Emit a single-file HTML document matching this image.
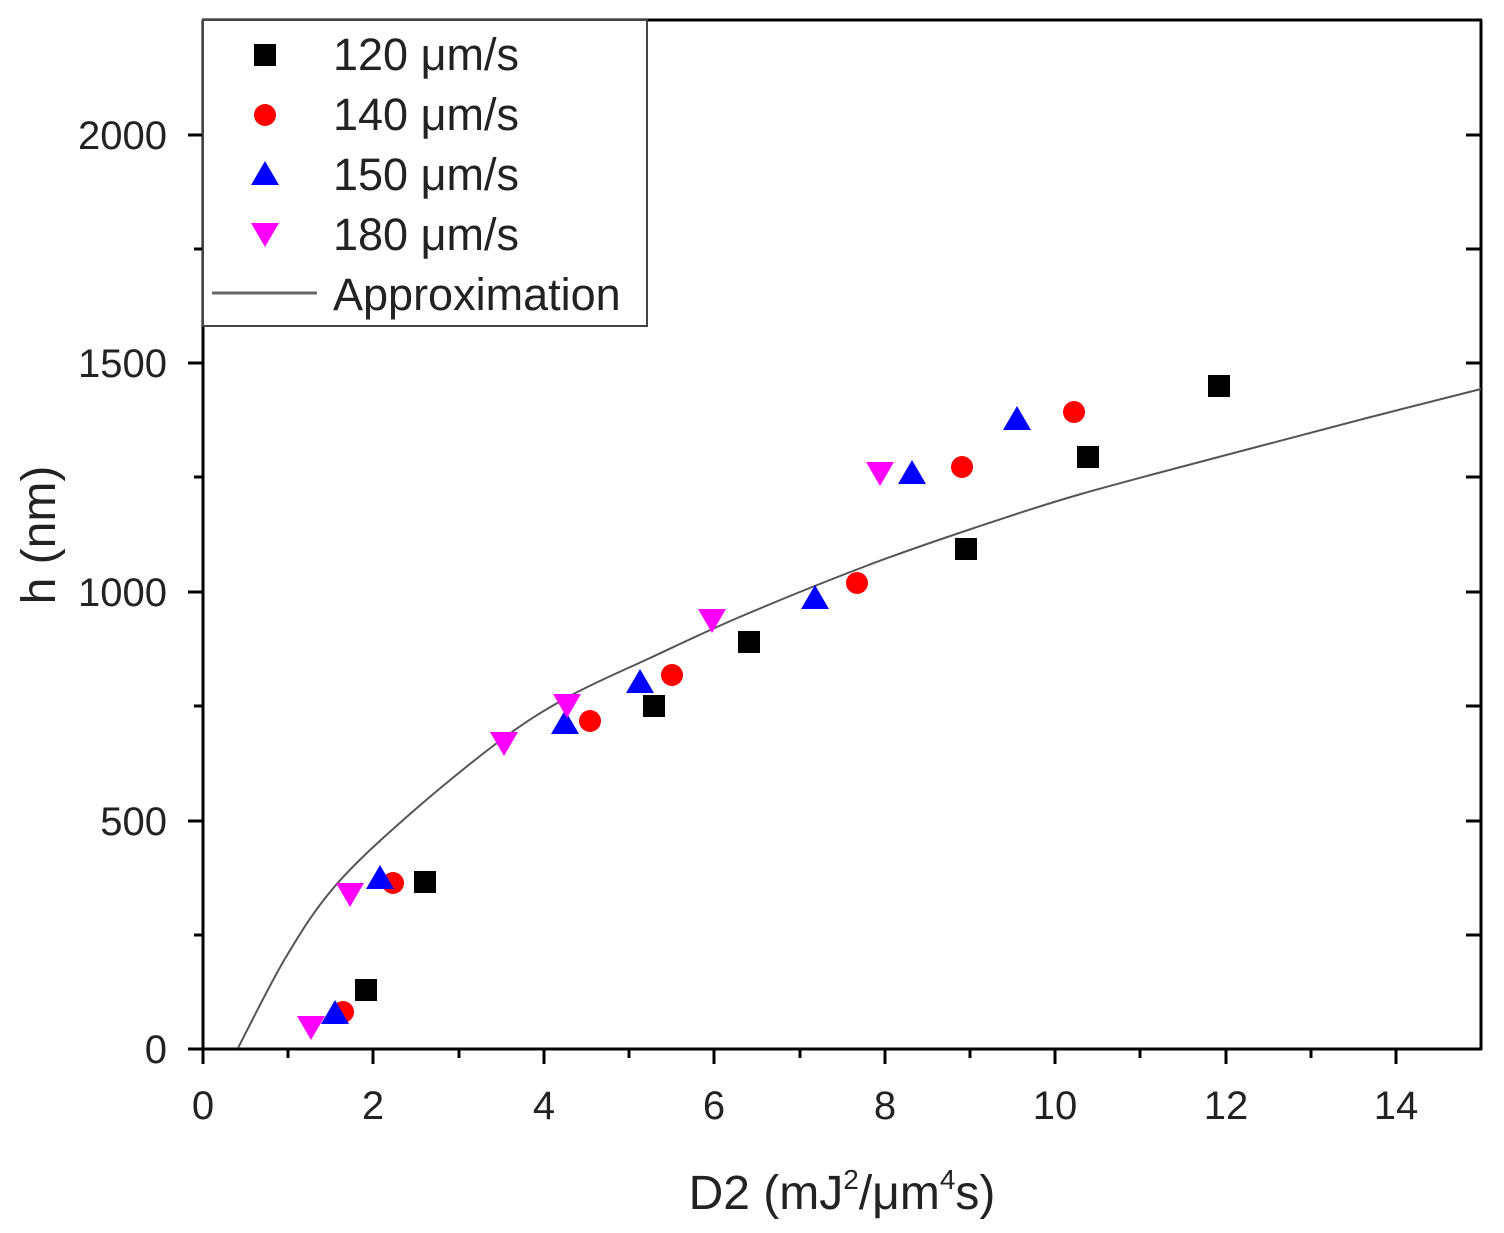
<!DOCTYPE html>
<html><head><style>body{margin:0;background:#fff}svg{display:block}</style></head><body>
<svg width="1504" height="1233" xmlns="http://www.w3.org/2000/svg" font-family="Liberation Sans, Arial, sans-serif">
<g stroke="#000" stroke-width="3" fill="none">
<line x1="203" y1="20" x2="203" y2="1050"/>
<line x1="1481" y1="20" x2="1481" y2="1050"/>
<line x1="202" y1="1049" x2="1482" y2="1049"/>
<line x1="202" y1="20" x2="1482" y2="20"/>
</g>
<g stroke="#000" stroke-width="3">
<line x1="203" y1="1049" x2="203" y2="1064"/><line x1="288" y1="1049" x2="288" y2="1058"/>
<line x1="373" y1="1049" x2="373" y2="1064"/><line x1="459" y1="1049" x2="459" y2="1058"/>
<line x1="544" y1="1049" x2="544" y2="1064"/><line x1="629" y1="1049" x2="629" y2="1058"/>
<line x1="714" y1="1049" x2="714" y2="1064"/><line x1="800" y1="1049" x2="800" y2="1058"/>
<line x1="885" y1="1049" x2="885" y2="1064"/><line x1="970" y1="1049" x2="970" y2="1058"/>
<line x1="1055" y1="1049" x2="1055" y2="1064"/><line x1="1140" y1="1049" x2="1140" y2="1058"/>
<line x1="1226" y1="1049" x2="1226" y2="1064"/><line x1="1311" y1="1049" x2="1311" y2="1058"/>
<line x1="1396" y1="1049" x2="1396" y2="1064"/>
<line x1="188" y1="1049" x2="203" y2="1049"/><line x1="194" y1="935" x2="203" y2="935"/>
<line x1="188" y1="821" x2="203" y2="821"/><line x1="194" y1="706" x2="203" y2="706"/>
<line x1="188" y1="592" x2="203" y2="592"/><line x1="194" y1="477" x2="203" y2="477"/>
<line x1="188" y1="363" x2="203" y2="363"/><line x1="194" y1="249" x2="203" y2="249"/>
<line x1="188" y1="135" x2="203" y2="135"/>
<line x1="1466" y1="935" x2="1481" y2="935"/><line x1="1466" y1="821" x2="1481" y2="821"/>
<line x1="1466" y1="706" x2="1481" y2="706"/><line x1="1466" y1="592" x2="1481" y2="592"/>
<line x1="1466" y1="477" x2="1481" y2="477"/><line x1="1466" y1="363" x2="1481" y2="363"/>
<line x1="1466" y1="249" x2="1481" y2="249"/><line x1="1466" y1="135" x2="1481" y2="135"/>
</g>
<g font-size="40" fill="#222" text-anchor="middle">
<text x="203" y="1119">0</text><text x="373" y="1119">2</text><text x="544" y="1119">4</text>
<text x="714" y="1119">6</text><text x="885" y="1119">8</text><text x="1055" y="1119">10</text>
<text x="1226" y="1119">12</text><text x="1396" y="1119">14</text>
</g>
<g font-size="40" fill="#222" text-anchor="end">
<text x="167" y="1063">0</text><text x="167" y="835">500</text><text x="167" y="606">1000</text>
<text x="167" y="377">1500</text><text x="167" y="149">2000</text>
</g>
<text x="842" y="1209" font-size="48" text-anchor="middle" fill="#222">D2 (mJ<tspan font-size="28" dy="-20">2</tspan><tspan dy="20">/μm</tspan><tspan font-size="28" dy="-20">4</tspan><tspan dy="20">s)</tspan></text>
<text transform="translate(55,535) rotate(-90)" font-size="48" text-anchor="middle" fill="#222">h (nm)</text>
<path id="curve" fill="none" stroke="#555" stroke-width="2" d="M238,1048 L286,957 L336,885 L410,814 L501,740 L568,697 L650,658 L742,616 L866,566 L974,528 L1081,494 L1230,454 L1363,419 L1481,389"/>
<g fill="#000">
<rect x="355" y="979" width="22" height="22"/><rect x="414" y="871" width="22" height="22"/>
<rect x="643" y="695" width="22" height="22"/><rect x="738" y="631" width="22" height="22"/>
<rect x="955" y="538" width="22" height="22"/><rect x="1077" y="446" width="22" height="22"/>
<rect x="1208" y="375" width="22" height="22"/>
</g>
<g fill="#f00">
<circle cx="343" cy="1012" r="11"/><circle cx="393" cy="883" r="11"/><circle cx="590" cy="721" r="11"/>
<circle cx="672" cy="675" r="11"/><circle cx="857" cy="583" r="11"/><circle cx="962" cy="467" r="11"/>
<circle cx="1074" cy="412" r="11"/>
</g>
<g fill="#00f">
<polygon points="335,1000 349,1024 321,1024"/><polygon points="380,865 394,889 366,889"/>
<polygon points="565,710 579,734 551,734"/><polygon points="640,669 654,693 626,693"/>
<polygon points="815,585 829,609 801,609"/><polygon points="912,460 926,484 898,484"/>
<polygon points="1017,406 1031,430 1003,430"/>
</g>
<g fill="#f0f">
<polygon points="311,1040 325,1016 297,1016"/><polygon points="350,907 364,883 336,883"/>
<polygon points="504,756 518,732 490,732"/><polygon points="567,718 581,694 553,694"/>
<polygon points="712,633 726,609 698,609"/><polygon points="880,486 894,462 866,462"/>
</g>
<rect x="203" y="20" width="444" height="306" fill="#fff" stroke="#444" stroke-width="2"/>
<rect x="254" y="44" width="22" height="22" fill="#000"/>
<circle cx="265" cy="115" r="11" fill="#f00"/>
<polygon points="265,161 279,185 251,185" fill="#00f"/>
<polygon points="265,247 279,223 251,223" fill="#f0f"/>
<line x1="212" y1="293" x2="317" y2="293" stroke="#666" stroke-width="3"/>
<g font-size="45" fill="#222">
<text x="333" y="70">120 μm/s</text><text x="333" y="130">140 μm/s</text>
<text x="333" y="190">150 μm/s</text><text x="333" y="250">180 μm/s</text>
<text x="333" y="310">Approximation</text>
</g>
</svg>
<script>
(function(){
var p=[[238,1048],[286,957],[336,885],[410,814],[501,740],[568,697],[650,658],[742,616],[866,566],[974,528],[1081,494],[1230,454],[1363,419],[1481,389]];
var d="M"+p[0][0]+","+p[0][1];
for(var i=0;i<p.length-1;i++){
var p0=p[Math.max(i-1,0)],p1=p[i],p2=p[i+1],p3=p[Math.min(i+2,p.length-1)];
var c1x=p1[0]+(p2[0]-p0[0])/6,c1y=p1[1]+(p2[1]-p0[1])/6;
var c2x=p2[0]-(p3[0]-p1[0])/6,c2y=p2[1]-(p3[1]-p1[1])/6;
d+=" C"+c1x.toFixed(1)+","+c1y.toFixed(1)+" "+c2x.toFixed(1)+","+c2y.toFixed(1)+" "+p2[0]+","+p2[1];
}
document.getElementById("curve").setAttribute("d",d);
})();
</script>
</body></html>
